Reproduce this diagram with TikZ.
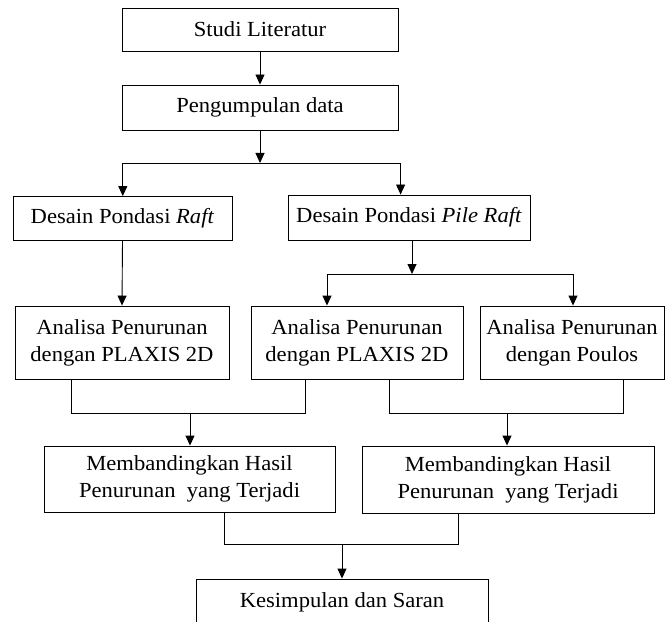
\documentclass[tikz,border=0pt]{standalone}
\usepackage{fontspec}
\setmainfont{Liberation Serif}[FakeStretch=1.05]
\usetikzlibrary{arrows.meta}
\begin{document}
\begin{tikzpicture}[x=1bp,y=-1bp,
  box/.style={draw=black,line width=0.9bp,inner sep=0pt,align=center,
    font=\fontsize{21.5bp}{27bp}\selectfont},
  conn/.style={draw=black,line width=0.9bp},
  arr/.style={conn,-{Triangle[length=10bp,width=9bp]}}]
\useasboundingbox (0,0) rectangle (666,622);
\clip (0,0) rectangle (666,622);
\fill[white] (0,0) rectangle (666,622);
% boxes
\node[box,minimum width=276bp,minimum height=43bp] (lit) at (260,29.5) {Studi Literatur};
\node[box,minimum width=276bp,minimum height=45bp] (data) at (260,107.5) {Pengumpulan data};
\node[box,minimum width=219bp,minimum height=44bp] (raft) at (122.5,218.5) {Desain Pondasi \textit{Raft}};
\node[box,minimum width=242bp,minimum height=45bp] (pile) at (409,217.5) {Desain Pondasi \textit{Pile Raft}};
\node[box,minimum width=214bp,minimum height=73bp] (a1) at (122,342.5) {Analisa Penurunan\\dengan PLAXIS 2D};
\node[box,minimum width=212bp,minimum height=73bp] (a2) at (357,342.5) {Analisa Penurunan\\dengan PLAXIS 2D};
\node[box,minimum width=184bp,minimum height=73bp] (a3) at (572,342.5) {Analisa Penurunan\\dengan Poulos};
\node[box,minimum width=291bp,minimum height=66bp] (m1) at (189.5,479) {Membandingkan Hasil\\Penurunan\ \ yang Terjadi};
\node[box,minimum width=292bp,minimum height=67bp] (m2) at (508,479.5) {Membandingkan Hasil\\Penurunan\ \ yang Terjadi};
\node[box,minimum width=292bp,minimum height=46bp] (k) at (342,602) {Kesimpulan dan Saran};
% junction coordinates
\coordinate (s1) at (122.8,163);
\coordinate (s2) at (400.6,163);
\coordinate (t0) at (412,274);
\coordinate (t1) at (327,274);
\coordinate (t2) at (573,274);
\coordinate (u1) at (71,413);
\coordinate (u2) at (305,413);
\coordinate (u0) at (190,413);
\coordinate (v1) at (389,413);
\coordinate (v2) at (623,413);
\coordinate (v0) at (507,413);
\coordinate (w1) at (224,544);
\coordinate (w2) at (458,544);
\coordinate (w0) at (342,544);
% connectors
\draw[arr] (lit.south) -- (data.north);
\draw[arr] (data.south) -- (data.south |- s1);
\draw[conn] (s1) -- (s2);
\draw[arr] (s1) -- (s1 |- raft.north);
\draw[arr] (s2) -- (s2 |- pile.north);
\draw[arr] (raft.south) -- (a1.north);
\draw[arr] (t0 |- pile.south) -- (t0);
\draw[conn] (t1) -- (t2);
\draw[arr] (t1) -- (t1 |- a2.north);
\draw[arr] (t2) -- (t2 |- a3.north);
\draw[conn] (u1 |- a1.south) -- (u1) -- (u2) -- (u2 |- a2.south);
\draw[arr] (u0) -- (u0 |- m1.north);
\draw[conn] (v1 |- a2.south) -- (v1) -- (v2) -- (v2 |- a3.south);
\draw[arr] (v0) -- (v0 |- m2.north);
\draw[conn] (w1 |- m1.south) -- (w1) -- (w2) -- (w2 |- m2.south);
\draw[arr] (w0) -- (w0 |- k.north);
\end{tikzpicture}
\end{document}
